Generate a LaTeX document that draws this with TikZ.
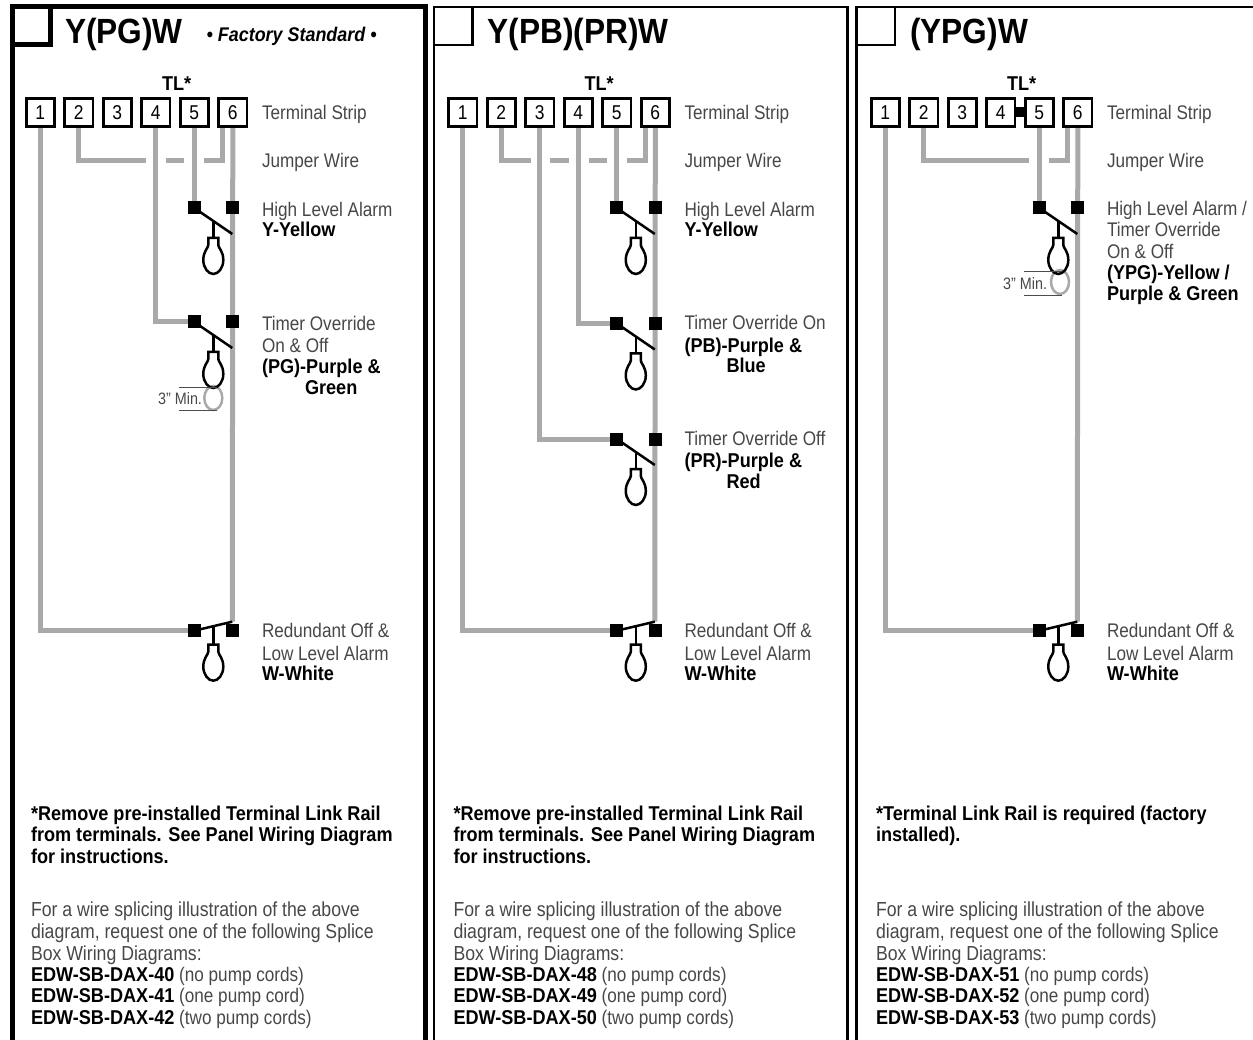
\documentclass[tikz,border=0pt]{standalone}
\usepackage{fontspec}
\setmainfont[FakeStretch=0.87,BoldFeatures={FakeStretch=0.905},BoldItalicFeatures={FakeStretch=0.905}]{Liberation Sans}
\usetikzlibrary{backgrounds}
\definecolor{wiregray}{HTML}{A9A9A9}
\colorlet{lighttext}{black!72}
\tikzset{
  x=1pt,y=-1pt,
  wire/.style={draw=wiregray,line width=5pt,line join=miter},
  blk/.style={draw=black,line width=2.5pt,line join=miter},
  term/.style={draw=black,line width=2.8pt,fill=white,minimum size=28.2pt,inner sep=0pt,outer sep=0pt,font=\fontsize{20}{20}\selectfont},
  sq/.style={fill=black,minimum size=13pt,inner sep=0pt,outer sep=0pt},
  lite/.style={anchor=base west,inner sep=0pt,outer sep=0pt,text=lighttext,font=\fontsize{19.7}{20}\selectfont},
  liteb/.style={lite,font=\fontsize{20.3}{20}\selectfont},
  bold/.style={anchor=base west,inner sep=0pt,outer sep=0pt,text=black,font=\fontsize{20}{20}\selectfont\bfseries},
  title/.style={anchor=base west,inner sep=0pt,outer sep=0pt,text=black,font=\fontsize{35}{36}\selectfont\bfseries},
  mintext/.style={anchor=base east,inner sep=0pt,outer sep=0pt,text=lighttext,font=\fontsize{16.5}{17}\selectfont},
  thinline/.style={draw=black!70,line width=0.8pt},
}
\newcommand{\bulbshape}[2]{%
  \draw[blk,shift={(#1,#2)}] (-5,0) -- (5,0) -- (5,7) .. controls (5,10) and (10,13) .. (10,22)
    .. controls (10,30) and (5,36) .. (0,36) .. controls (-5,36) and (-10,30) .. (-10,22)
    .. controls (-10,13) and (-5,10) .. (-5,7) -- cycle;}
\newcommand{\swopen}[3]{%
  \begin{scope}[shift={(#2,#3)}]
    \node[sq] (#1) at (0,0) {};
    \node[sq] (#1R) at (38.5,0) {};
    \coordinate (#1tip) at (38,26);
    \coordinate (#1st) at (19,13);
    \coordinate (#1nk) at (19,30);
    \draw[blk] (#1.center) -- (#1tip);
    \draw[blk] (#1st) -- (#1nk);
    \bulbshape{19}{30}
  \end{scope}}
\newcommand{\swlow}[3]{%
  \begin{scope}[shift={(#2,#3)}]
    \node[sq] (#1) at (0,0) {};
    \node[sq] (#1R) at (38.5,0) {};
    \coordinate (#1tip) at (38,-9);
    \coordinate (#1st) at (19,-4);
    \coordinate (#1nk) at (19,14);
    \draw[blk] (#1.center) -- (#1tip);
    \draw[blk] (#1st) -- (#1nk);
    \bulbshape{19}{14}
  \end{scope}}
\newcommand{\common}[1]{%
  \node[bold] (#1tl) at (162,90.7) {TL*};
  \node[term] (#11) at (40.3,112.5) {1};
  \node[term] (#12) at (78.8,112.5) {2};
  \node[term] (#13) at (117.3,112.5) {3};
  \node[term] (#14) at (155.8,112.5) {4};
  \node[term] (#15) at (194.3,112.5) {5};
  \node[term] (#16) at (232.8,112.5) {6};
  \node[lite] (#1ts) at (262,120) {Terminal Strip};
  \node[lite] (#1jw) at (262,168) {Jumper Wire};
  \swlow{#1r}{194.3}{630.7}
  \node[lite] (#1ra) at (262,637.7) {Redundant Off \&};
  \node[lite] (#1rb) at (262,660) {Low Level Alarm};
  \node[bold] (#1rc) at (262,680.7) {W-White};
  \coordinate (#1j6) at (222.7,128);
  \begin{scope}[on background layer]
    \draw[wire] (#11.south) |- (#1r.center);
    \draw[wire] (#16.south) -- (#1rtip);
  \end{scope}}
\newcommand{\hilabel}[1]{%
  \node[lite] (#1ha) at (262,216.7) {High Level Alarm};
  \node[bold] (#1hb) at (262,236.7) {Y-Yellow};}
\newcommand{\splice}[4]{%
  \node[liteb] (#1sa) at (31,916.7) {For a wire splicing illustration of the above};
  \node[liteb] (#1sb) at (31,938) {diagram, request one of the following Splice};
  \node[liteb] (#1sc) at (31,960) {Box Wiring Diagrams:};
  \node[lite] (#1sd) at (31,981) {\textcolor{black}{\fontsize{20}{20}\selectfont\bfseries EDW-SB-DAX-#2} (no pump cords)};
  \node[lite] (#1se) at (31,1002) {\textcolor{black}{\fontsize{20}{20}\selectfont\bfseries EDW-SB-DAX-#3} (one pump cord)};
  \node[lite] (#1sf) at (31,1024) {\textcolor{black}{\fontsize{20}{20}\selectfont\bfseries EDW-SB-DAX-#4} (two pump cords)};}
\newcommand{\removenote}[1]{%
  \node[bold] (#1na) at (31,820.7) {*Remove pre-installed Terminal Link Rail};
  \node[bold] (#1nb) at (31,841.7) {from terminals. See Panel Wiring Diagram};
  \node[bold] (#1nc) at (31,863) {for instructions.};}
\begin{document}
\begin{tikzpicture}
\useasboundingbox (0,0) rectangle (1253,1040);
% ---------- panel 1
\draw[black,line width=5pt,line join=miter] (12,1040) -- (12,7) -- (425,7) -- (425,1040);
\draw[black,line width=5pt,line join=miter] (12,45) -- (50.5,45) -- (50.5,7);
\node[title] (atitle) at (65,44) {Y(PG)W};
\node[bold,font=\fontsize{19.8}{20}\selectfont\bfseries\itshape] (afs) at (206.7,41.7) {• Factory Standard •};
\common{a}
\hilabel{a}
\swopen{ah}{194.3}{208}
\swopen{at}{194.3}{322}
\coordinate (aj1) at (146,160.3);
\coordinate (aj2) at (166,160.3);
\coordinate (aj3) at (184,160.3);
\coordinate (aj4) at (204,160.3);
\coordinate (ald1) at (179,387);
\coordinate (ald2) at (217,387);
\coordinate (ald3) at (179,410);
\coordinate (ald4) at (217,410);
\begin{scope}[on background layer]
  \draw[wire] (a2.south) |- (aj1);
  \draw[wire] (aj2) -- (aj3);
  \draw[wire] (aj4) -| (aj6);
  \draw[wire] (a4.south) |- (at.center);
  \draw[wire] (a5.south) -- (ah.center);
  \draw[draw=wiregray,line width=2.5pt] (213.3,398) ellipse [x radius=9,y radius=12];
\end{scope}
\draw[thinline] (ald1) -- (ald2);
\draw[thinline] (ald3) -- (ald4);
\node[mintext] (amin) at (202,405) {3" Min.};
\node[lite] (ata) at (262,330.7) {Timer Override};
\node[lite] (atb) at (262,352.7) {On \& Off};
\node[bold] (atc) at (262,374) {(PG)-Purple \&};
\node[bold] (atd) at (305,395) {Green};
\removenote{a}
\splice{a}{40}{41}{42}
% ---------- panel 2
\begin{scope}[shift={(422.5,0)}]
\draw[black,line width=2.5pt,line join=miter] (11.5,1040) -- (11.5,7) -- (424.8,7) -- (424.8,1040);
\draw[black,line width=2.5pt,line join=miter] (11.5,45) -- (50,45) -- (50,7);
\node[title] (btitle) at (65,44) {Y(PB)(PR)W};
\common{b}
\hilabel{b}
\swopen{bh}{194.3}{208}
\swopen{bt}{194.3}{323.5}
\swopen{bu}{194.3}{439}
\coordinate (bj1) at (108,160.3);
\coordinate (bj2) at (127.5,160.3);
\coordinate (bj3) at (146,160.3);
\coordinate (bj4) at (166,160.3);
\coordinate (bj5) at (184,160.3);
\coordinate (bj6x) at (204.5,160.3);
\begin{scope}[on background layer]
  \draw[wire] (b2.south) |- (bj1);
  \draw[wire] (bj2) -- (bj3);
  \draw[wire] (bj4) -- (bj5);
  \draw[wire] (bj6x) -| (bj6);
  \draw[wire] (b3.south) |- (bu.center);
  \draw[wire] (b4.south) |- (bt.center);
  \draw[wire] (b5.south) -- (bh.center);
\end{scope}
\node[lite] (bta) at (262,330) {Timer Override On};
\node[bold] (btb) at (262,352.7) {(PB)-Purple \&};
\node[bold] (btc) at (304,373) {Blue};
\node[lite] (bua) at (262,445.7) {Timer Override Off};
\node[bold] (bub) at (262,467.7) {(PR)-Purple \&};
\node[bold] (buc) at (304,488.3) {Red};
\removenote{b}
\splice{b}{48}{49}{50}
\end{scope}
% ---------- panel 3
\begin{scope}[shift={(845,0)}]
\draw[black,line width=2.5pt,line join=miter] (11.7,1040) -- (11.7,7) -- (408,7);
\draw[black,line width=2.5pt,line join=miter] (11.7,45) -- (50,45) -- (50,7);
\node[title] (ctitle) at (65,44) {(YPG)W};
\common{c}
\swopen{ch}{194.3}{208}
\node[fill=black,minimum size=10pt,inner sep=0pt] (crail) at (175,112.5) {};
\coordinate (cj1) at (184,160.3);
\coordinate (cj2) at (204.3,160.3);
\coordinate (cld1) at (179,271.7);
\coordinate (cld2) at (217,271.7);
\coordinate (cld3) at (179,295);
\coordinate (cld4) at (217,295);
\begin{scope}[on background layer]
  \draw[wire] (c2.south) |- (cj1);
  \draw[wire] (cj2) -| (cj6);
  \draw[wire] (c5.south) -- (ch.center);
  \draw[draw=wiregray,line width=2.5pt] (215,282) ellipse [x radius=9,y radius=12];
\end{scope}
\draw[thinline] (cld1) -- (cld2);
\draw[thinline] (cld3) -- (cld4);
\node[mintext] (cmin) at (202,290) {3" Min.};
\node[lite] (cha) at (262,216) {High Level Alarm /};
\node[lite] (chb) at (262,236.5) {Timer Override};
\node[lite] (chc) at (262,258.3) {On \& Off};
\node[bold] (chd) at (262,280) {(YPG)-Yellow /};
\node[bold] (che) at (262,301) {Purple \& Green};
\node[bold] (cna) at (31,820.7) {*Terminal Link Rail is required (factory};
\node[bold] (cnb) at (31,841.7) {installed).};
\splice{c}{51}{52}{53}
\end{scope}
\end{tikzpicture}
\end{document}
